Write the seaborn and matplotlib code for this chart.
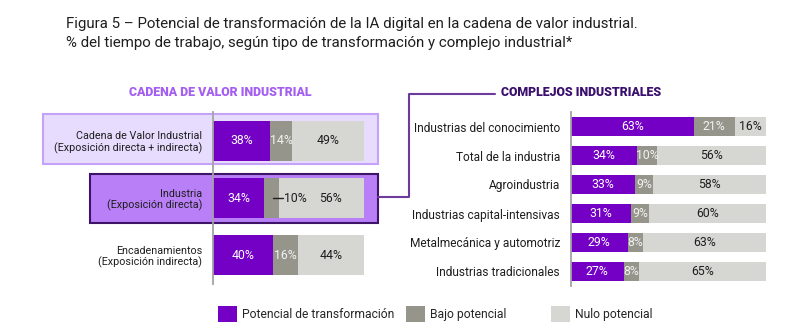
import matplotlib
matplotlib.use("Agg")
import matplotlib.pyplot as plt
from matplotlib.patches import Rectangle, Patch
from matplotlib.lines import Line2D
import seaborn as sns
import pandas as pd

# ---- data -------------------------------------------------------------
cadena_cats = ["Cadena de Valor Industrial\n(Exposición directa + indirecta)",
               "Industria\n(Exposición directa)",
               "Encadenamientos\n(Exposición indirecta)"]
cadena_potencial = [38, 34, 40]
cadena_bajo = [14, 10, 16]
cadena_nulo = [49, 56, 44]

complejos_cats = ["Industrias del conocimiento", "Total de la industria",
                  "Agroindustria", "Industrias capital-intensivas",
                  "Metalmecánica y automotriz", "Industrias tradicionales"]
complejos_potencial = [63, 34, 33, 31, 29, 27]
complejos_bajo = [21, 10, 9, 9, 8, 8]
complejos_nulo = [16, 56, 58, 60, 63, 65]

legend_labels = ["Potencial de transformación", "Bajo potencial", "Nulo potencial"]

# ---- style ------------------------------------------------------------
sns.set_theme(style="white")
plt.rcParams["font.family"] = ["Roboto", "DejaVu Sans"]

PURPLE = "#7300c4"
GRAY = "#96958c"
LIGHT = "#d6d6d2"
AXIS_GRAY = "#a3a3a3"
TEXT = "#1e1e1e"

W, H = 812, 331
fig = plt.figure(figsize=(W / 100, H / 100), dpi=100)
fig.patch.set_facecolor("white")


def fx(x):
    return x / W


def fy(y):
    return 1 - y / H


def px_axes(x0, y0, x1, y1):
    ax = fig.add_axes([fx(x0), fy(y1), (x1 - x0) / W, (y1 - y0) / H])
    ax.set_zorder(2)
    return ax


def stacked(ax, cats, pot, bajo, nulo, bar_h, fs, callouts=()):
    df = pd.DataFrame({"cat": cats, "pot": pot, "bajo": bajo, "nulo": nulo})
    df["c2"] = df["pot"] + df["bajo"]
    df["c3"] = df["c2"] + df["nulo"]
    common = dict(y="cat", data=df, ax=ax, orient="h", width=bar_h,
                  saturation=1, linewidth=0, errorbar=None)
    sns.barplot(x="c3", color=LIGHT, **common)
    sns.barplot(x="c2", color=GRAY, **common)
    sns.barplot(x="pot", color=PURPLE, **common)
    for i, r in df.iterrows():
        ax.text(r["pot"] / 2, i, f"{r['pot']}%", ha="center", va="center",
                color="white", fontsize=fs)
        if i in callouts:
            x0 = r["pot"] + r["bajo"] * 0.6
            x1 = r["c2"] + 2.5
            ax.add_line(Line2D([x0, x1], [i, i], color=TEXT, lw=1.0))
            ax.text(x1 + 0.5, i, f"{r['bajo']}%", ha="left", va="center",
                    color=TEXT, fontsize=fs)
            ax.text(r["c2"] + r["nulo"] * 0.6, i, f"{r['nulo']}%", ha="center",
                    va="center", color=TEXT, fontsize=fs)
        else:
            ax.text(r["pot"] + r["bajo"] / 2, i, f"{r['bajo']}%", ha="center",
                    va="center", color="#f2f2f2", fontsize=fs)
            ax.text(r["c2"] + r["nulo"] / 2, i, f"{r['nulo']}%", ha="center",
                    va="center", color=TEXT, fontsize=fs)
    ax.set_xlim(0, 100)
    ax.set_xlabel("")
    ax.set_ylabel("")
    ax.set_xticks([])
    ax.patch.set_alpha(0)
    for s in ["top", "right", "bottom"]:
        ax.spines[s].set_visible(False)
    ax.spines["left"].set_color(AXIS_GRAY)
    ax.spines["left"].set_linewidth(1.3)
    ax.tick_params(axis="y", length=0, pad=8)


# ---- highlight boxes behind the left panel ----------------------------
fig.patches.append(Rectangle((fx(43), fy(164)), (378 - 43) / W, (164 - 114) / H,
                             transform=fig.transFigure, facecolor="#e8dcfe",
                             edgecolor="#c4a2f7", lw=1.5, zorder=-1))
fig.patches.append(Rectangle((fx(90), fy(223)), (378 - 90) / W, (223 - 174) / H,
                             transform=fig.transFigure, facecolor="#b87ff6",
                             edgecolor="#3d1468", lw=1.5, zorder=-1))

# ---- left panel -------------------------------------------------------
ax_l = px_axes(213, 112, 364, 284)
stacked(ax_l, cadena_cats, cadena_potencial, cadena_bajo, cadena_nulo,
        bar_h=0.70, fs=8.8, callouts=(1,))
for t in ax_l.get_yticklabels():
    t.set_fontsize(7.75)
    t.set_multialignment("right")
    t.set_color(TEXT)
    t.set_linespacing(1.1)

# ---- right panel ------------------------------------------------------
ax_r = px_axes(571, 112, 766, 286)
stacked(ax_r, complejos_cats, complejos_potencial, complejos_bajo,
        complejos_nulo, bar_h=0.66, fs=8.8)
for t in ax_r.get_yticklabels():
    t.set_fontsize(8.6)
    t.set_color(TEXT)

# ---- headers and connector -------------------------------------------
fig.text(fx(220), fy(93), "CADENA DE VALOR INDUSTRIAL", ha="center",
         va="center", fontsize=8.9, fontweight="black", color="#a45ef0")
fig.text(fx(581), fy(93), "COMPLEJOS INDUSTRIALES", ha="center",
         va="center", fontsize=8.9, fontweight="black", color="#3a0f6e")
fig.lines.append(Line2D([fx(378), fx(409), fx(409), fx(495)],
                        [fy(197), fy(197), fy(94), fy(94)],
                        transform=fig.transFigure, color="#6b3a9b", lw=1.5))

# ---- title ------------------------------------------------------------
fig.text(fx(66), fy(24), "Figura 5 – Potencial de transformación de la IA digital "
         "en la cadena de valor industrial.", ha="left", va="center",
         fontsize=10.85, color=TEXT)
fig.text(fx(66), fy(43), "% del tiempo de trabajo, según tipo de transformación "
         "y complejo industrial*", ha="left", va="center",
         fontsize=10.85, color=TEXT)

# ---- legend -----------------------------------------------------------
for lab, col, x in zip(legend_labels, [PURPLE, GRAY, LIGHT], [218, 406, 551]):
    fig.legend(handles=[Patch(facecolor=col, edgecolor="none")], labels=[lab],
               loc="center left", bbox_to_anchor=(fx(x), fy(314)),
               frameon=False, fontsize=8.7, handlelength=1.6,
               handleheight=1.6, handletextpad=0.35, borderpad=0,
               borderaxespad=0)

fig.savefig("out.png", dpi=100)
